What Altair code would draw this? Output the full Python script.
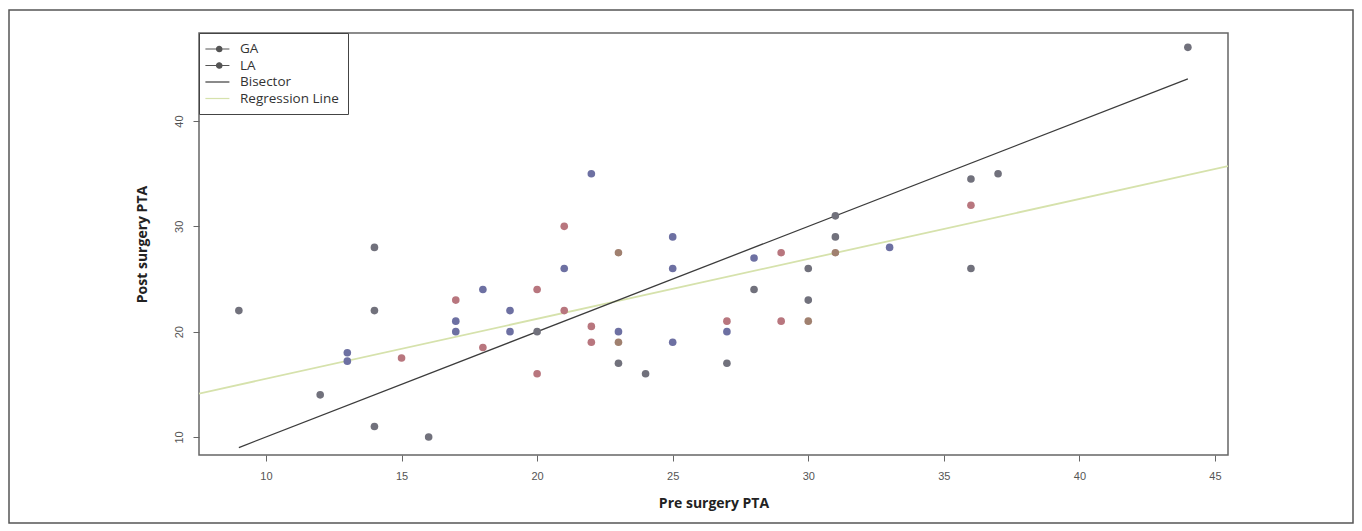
import altair as alt
import pandas as pd

# ---- data ----
pre = [9, 12, 13, 13, 14, 14, 14, 15, 16, 17, 17, 17, 18, 18, 19, 19, 20, 20, 20,
       21, 21, 21, 22, 22, 22, 23, 23, 23, 23, 24, 25, 25, 25, 27, 27, 27, 28, 28,
       29, 29, 30, 30, 30, 31, 31, 31, 33, 36, 36, 36, 37, 44]
post = [22, 14, 18, 17.2, 28, 22, 11, 17.5, 10, 23, 21, 20, 24, 18.5, 22, 20, 24, 20, 16,
        30, 26, 22, 35, 20.5, 19, 27.5, 20, 19, 17, 16, 29, 26, 19, 21, 20, 17, 27, 24,
        27.5, 21, 26, 23, 21, 31, 29, 27.5, 28, 34.5, 32, 26, 35, 47]
group = ["both", "both", "GA", "GA", "both", "both", "both", "LA", "both", "LA", "GA", "GA", "GA", "LA",
         "GA", "GA", "LA", "both", "LA", "LA", "GA", "LA", "GA", "LA", "LA", "LA2", "GA", "LA2", "both",
         "both", "GA", "GA", "GA", "LA", "GA", "both", "GA", "both", "LA", "LA", "both", "both", "LA2",
         "both", "both", "LA2", "GA", "both", "LA", "both", "both", "both"]

legend_items = ["GA", "LA", "Bisector", "Regression Line"]
reg_intercept = 9.84
reg_slope = 0.569

x_domain = [7.53, 45.48]
y_domain = [8.29, 48.36]
x_ticks = [10, 15, 20, 25, 30, 35, 40, 45]
y_ticks = [10, 20, 30, 40]

pts = pd.DataFrame({"pre": pre, "post": post, "group": group})
bis = pd.DataFrame({"pre": [min(pre), max(pre)], "post": [min(pre), max(pre)]})
reg = pd.DataFrame({"pre": x_domain, "post": [reg_intercept + reg_slope * v for v in x_domain]})
leg = pd.DataFrame({"series": legend_items, "pre": [x_domain[0]] * 4, "post": [y_domain[0]] * 4})

FONT = "Open Sans"
xs = alt.Scale(domain=x_domain, nice=False, zero=False)
ys = alt.Scale(domain=y_domain, nice=False, zero=False)

x_axis = alt.Axis(values=x_ticks, title="Pre surgery PTA", grid=False, tickSize=6,
                  labelPadding=9, titlePadding=15, domain=False)
y_axis = alt.Axis(values=y_ticks, title="Post surgery PTA", grid=False, tickSize=6,
                  labelAngle=270, labelAlign="center", labelBaseline="bottom",
                  labelPadding=9, titlePadding=24, domain=False)

frame = alt.Chart(pd.DataFrame({"a": [0]})).mark_rect(
    fill="white", fillOpacity=0, stroke="#555555", strokeWidth=1.5
).encode(x=alt.value(-190), x2=alt.value(1154), y=alt.value(-23), y2=alt.value(490))

reg_line = alt.Chart(reg).mark_line(color="#d6e2ac", strokeWidth=1.8, clip=True).encode(
    x=alt.X("pre:Q", scale=xs, axis=x_axis), y=alt.Y("post:Q", scale=ys, axis=y_axis))

bis_line = alt.Chart(bis).mark_line(color="#3c3c3c", strokeWidth=1.3).encode(
    x=alt.X("pre:Q", scale=xs), y=alt.Y("post:Q", scale=ys))

points = alt.Chart(pts).mark_circle(size=58, opacity=1).encode(
    x=alt.X("pre:Q", scale=xs), y=alt.Y("post:Q", scale=ys),
    color=alt.Color("group:N", legend=None,
                    scale=alt.Scale(domain=["GA", "LA", "both", "LA2"],
                                    range=["#6d70a2", "#b8767e", "#71717c", "#a0806f"])))

dot_line = "M-1.6,0H2.4M0.25,0A0.45,0.45 0 1,0 1.15,0A0.45,0.45 0 1,0 0.25,0Z"
plain_line = "M-1.6,0H2.4"
leg_layer = alt.Chart(leg).transform_filter("false").mark_point(
    opacity=1, filled=True, strokeWidth=1.2, size=144
).encode(
    x=alt.X("pre:Q", scale=xs), y=alt.Y("post:Q", scale=ys),
    fill=alt.Fill("series:N", scale=alt.Scale(domain=legend_items,
                  range=["#555555", "#555555", "#3c3c3c", "#d6e2ac"]),
                  legend=alt.Legend(title=None, orient="top-left", offset=0, padding=9,
                                    fillColor="white", strokeColor="#444444",
                                    labelFont=FONT, labelFontSize=13.5, labelColor="#333333",
                                    labelOffset=18, rowPadding=2.5, symbolSize=144,
                                    symbolStrokeWidth=1.2)),
    stroke=alt.Stroke("series:N", scale=alt.Scale(domain=legend_items,
                      range=["#555555", "#555555", "#3c3c3c", "#d6e2ac"])),
    shape=alt.Shape("series:N", scale=alt.Scale(domain=legend_items,
                    range=[dot_line, dot_line, plain_line, plain_line])),
)

chart = alt.layer(frame, reg_line, bis_line, points, leg_layer).properties(
    width=1029, height=422,
    autosize=alt.AutoSizeParams(type="none"),
    padding={"left": 199, "top": 33, "right": 134, "bottom": 76},
    background="white",
).configure_view(stroke="#666666", strokeWidth=1.5).configure_axis(
    labelFont="Liberation Sans", labelFontSize=11, labelColor="#555555",
    tickColor="#666666", titleFont=FONT, titleFontSize=14, titleFontWeight="bold",
    titleColor="#222222"
)

chart.save("out.html", embed_options={"renderer": "svg", "actions": False})
